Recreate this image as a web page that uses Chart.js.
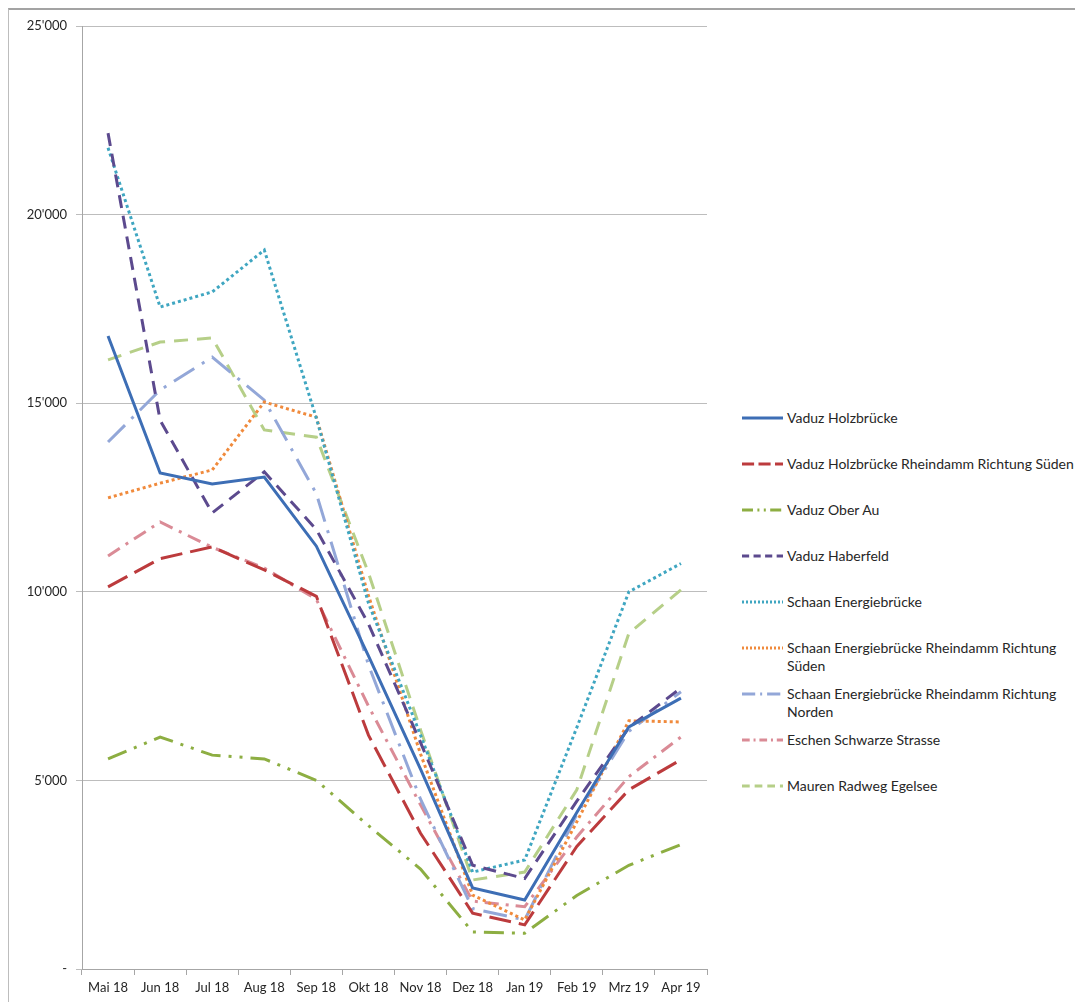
<!DOCTYPE html>
<html>
<head>
<meta charset="utf-8">
<script src="https://cdn.jsdelivr.net/npm/chart.js@4/dist/chart.umd.min.js"></script>
<style>
  html, body { margin: 0; padding: 0; background: #fff; }
  body { width: 1075px; height: 1003px; position: relative; overflow: hidden; font-family: Lato, "Open Sans", sans-serif; }
  #frame { position: absolute; left: 8px; top: 8px; width: 1100px; height: 992px; border-top: 2px solid #A3A3A3; border-left: 1px solid #BDBDBD; }
  #wrap { position: absolute; left: 0; top: 0; width: 720px; height: 1003px; }
  #legend { position: absolute; left: 0; top: 0; }
  .item { position: absolute; left: 742px; width: 340px; font-size: 14px; line-height: 18px; color: #262626; }
  .item svg { position: absolute; left: 0; top: 3px; }
  .item .txt { position: absolute; left: 45px; top: 0; width: 292px; }
</style>
</head>
<body>
<div id="frame"></div>
<div id="wrap"><canvas id="c" width="720" height="1003"></canvas></div>
<div id="legend"></div>
<script>
const months = ["Mai 18","Jun 18","Jul 18","Aug 18","Sep 18","Okt 18","Nov 18","Dez 18","Jan 19","Feb 19","Mrz 19","Apr 19"];

const vaduzHolzbruecke   = [16780, 13150, 12860, 13040, 11210, 8300, 5300, 2150, 1830, 4150, 6420, 7180];
const vaduzRheindammSued = [10130, 10880, 11190, 10580, 9880, 6200, 3600, 1480, 1170, 3250, 4750, 5550];
const vaduzOberAu        = [5570, 6150, 5670, 5570, 5000, 3800, 2650, 980, 950, 1950, 2750, 3300];
const vaduzHaberfeld     = [22160, 14550, 12090, 13180, 11650, 9150, 6000, 2750, 2400, 4450, 6400, 7450];
const schaanEnergie      = [21770, 17550, 17950, 19060, 14600, 9700, 6200, 2570, 2890, 6400, 10000, 10750];
const schaanRheinSued    = [12490, 12880, 13230, 15030, 14630, 9900, 5700, 1960, 1300, 3900, 6580, 6550];
const schaanRheinNord    = [13970, 15350, 16220, 15080, 12600, 8060, 4500, 1600, 1300, 4100, 6300, 7350];
const eschenSchwarze     = [10950, 11850, 11180, 10630, 9800, 6970, 4350, 1800, 1650, 3500, 5100, 6150];
const maurenEgelsee      = [16150, 16620, 16730, 14290, 14100, 10500, 6340, 2360, 2570, 4750, 8900, 10050];

const yTicks = [0, 5000, 10000, 15000, 20000, 25000];

const series = [
  { label: "Vaduz Holzbrücke", data: vaduzHolzbruecke, color: "#3D6EB5", dash: [] },
  { label: "Vaduz Holzbrücke Rheindamm Richtung Süden", data: vaduzRheindammSued, color: "#BC3B3D", dash: [22, 8] },
  { label: "Vaduz Ober Au", data: vaduzOberAu, color: "#8DAE42", dash: [20, 8, 3, 8, 3, 8] },
  { label: "Vaduz Haberfeld", data: vaduzHaberfeld, color: "#5C4A8E", dash: [13, 8] },
  { label: "Schaan Energiebrücke", data: schaanEnergie, color: "#3FA6C1", dash: [3, 3] },
  { label: "Schaan Energiebrücke Rheindamm Richtung Süden", data: schaanRheinSued, color: "#F08A3C", dash: [3, 3] },
  { label: "Schaan Energiebrücke Rheindamm Richtung Norden", data: schaanRheinNord, color: "#93A7D8", dash: [24, 9, 3, 9] },
  { label: "Eschen Schwarze Strasse", data: eschenSchwarze, color: "#DA8B96", dash: [14, 7, 3, 7] },
  { label: "Mauren Radweg Egelsee", data: maurenEgelsee, color: "#B6CF88", dash: [14, 9] }
];

const fmt = v => v === 0 ? "-" : String(v).replace(/\B(?=(\d{3})+(?!\d))/g, "'");

const chart = new Chart(document.getElementById("c"), {
  type: "line",
  data: {
    labels: months,
    datasets: series.map(s => ({
      label: s.label, data: s.data, borderColor: s.color, backgroundColor: s.color,
      borderDash: s.dash, borderWidth: 3, pointRadius: 0, tension: 0, fill: false
    }))
  },
  options: {
    responsive: false, animation: false,
    layout: { padding: { left: 0, top: 26, right: 13, bottom: 0 } },
    plugins: { legend: { display: false }, tooltip: { enabled: false } },
    scales: {
      x: {
        offset: true,
        grid: { display: true, drawOnChartArea: false, drawTicks: true, tickLength: 6, offset: true, color: "#A6A6A6" },
        border: { display: true, color: "#A6A6A6" },
        ticks: { font: { family: "Lato", size: 13 }, color: "#262626", padding: 5, maxRotation: 0, autoSkip: false },
        afterFit: s => { s.height = 34; }
      },
      y: {
        min: 0, max: 25000,
        afterBuildTicks: s => { s.ticks = yTicks.map(v => ({ value: v })); },
        grid: { color: "#BDBDBD", tickLength: 6, drawTicks: true },
        border: { display: true, color: "#A6A6A6" },
        ticks: { font: { family: "Lato", size: 13 }, color: "#262626", padding: 9, callback: v => fmt(v) },
        afterFit: s => { s.width = 82; }
      }
    }
  }
});

const legend = document.getElementById("legend");
series.forEach((s, i) => {
  const item = document.createElement("div");
  item.className = "item";
  item.style.top = (409 + i * 46) + "px";
  const ns = "http://www.w3.org/2000/svg";
  const svg = document.createElementNS(ns, "svg");
  svg.setAttribute("width", "42"); svg.setAttribute("height", "12");
  const ln = document.createElementNS(ns, "line");
  ln.setAttribute("x1", "0"); ln.setAttribute("y1", "6"); ln.setAttribute("x2", "41"); ln.setAttribute("y2", "6");
  ln.setAttribute("stroke", s.color); ln.setAttribute("stroke-width", "3");
  if (s.dash.length) ln.setAttribute("stroke-dasharray", s.dash.map(d => Math.max(2, d * 0.55)).join(" "));
  svg.appendChild(ln);
  item.appendChild(svg);
  const t = document.createElement("div");
  t.className = "txt"; t.textContent = s.label;
  item.appendChild(t);
  legend.appendChild(item);
});
</script>
</body>
</html>
